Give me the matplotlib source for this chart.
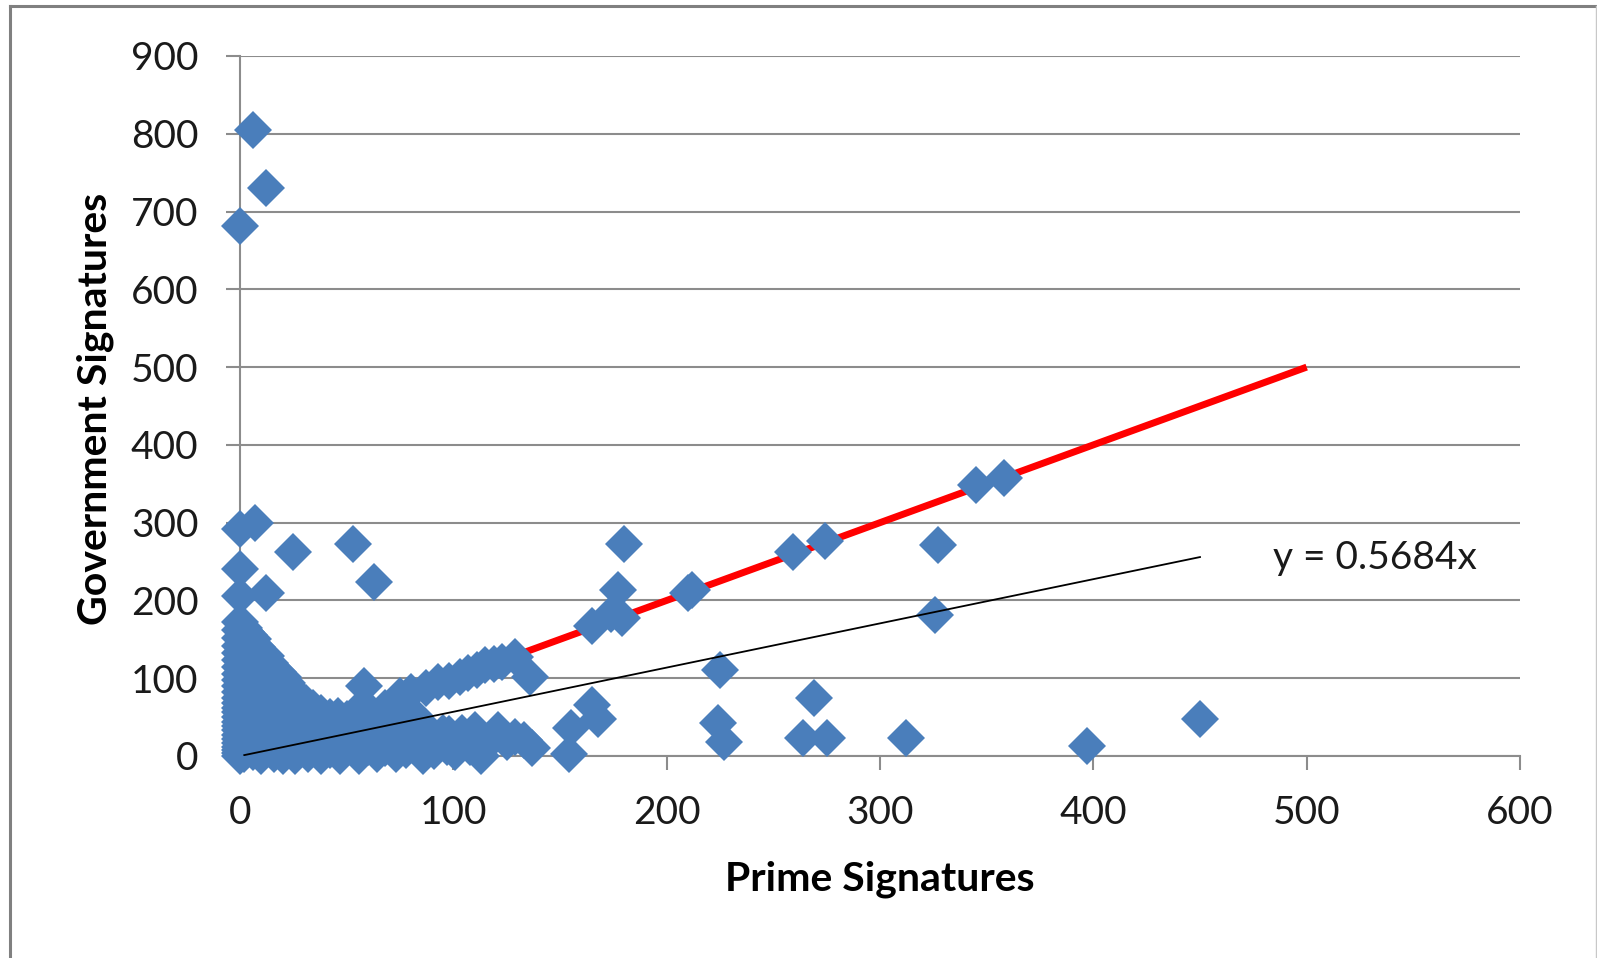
import matplotlib
matplotlib.use('Agg')
import matplotlib.pyplot as plt
from matplotlib.lines import Line2D

plt.rcParams['font.family'] = ['Lato', 'DejaVu Sans']

# Prime vs government signatures
prime = [
    0, 0, 0, 0, 0, 0, 0, 0, 0, 0, 0, 0, 0, 0, 0, 0, 0, 0, 0, 0, 0, 0, 0, 0, 0, 0, 0, 0, 0, 0,
    2, 2, 2, 2, 2, 2, 2, 2, 2, 2, 3,
    4, 4, 4, 4, 4, 4, 4, 4, 4,
    6, 7, 6, 6, 6, 6, 6, 6, 6, 6, 6,
    8, 8, 8, 8, 8, 8, 8, 8,
    10, 10, 10, 10, 10, 10, 10, 10,
    12, 12, 12, 12, 12, 12, 12, 12, 12,
    14, 14, 14, 14, 14, 14,
    16, 16, 16, 16, 16, 16,
    18, 18, 18, 18, 18, 18,
    20, 20, 20, 20, 20, 20,
    22, 22, 22, 22, 22,
    24, 25, 24, 24, 24,
    26, 26, 26, 27,
    28, 28, 28,
    30, 30, 31,
    32, 33, 33, 34,
    36, 36, 38,
    38, 39, 40,
    42, 42, 42,
    45, 45, 46,
    47, 48, 50,
    50, 52, 54,
    53, 55, 56, 57, 58,
    60, 60, 62,
    63, 64, 65, 66, 68,
    68, 70, 71, 75,
    73, 75, 76,
    78, 80, 82, 80,
    84, 86, 86, 87,
    89, 91, 93,
    95, 97, 98,
    101, 104, 108, 110, 113, 116, 121, 125, 129, 133, 137,
    98, 103, 107, 111, 115, 119, 123, 129, 136,
    154, 155, 165, 168, 165, 174, 179, 177, 180, 210, 212,
    225, 224, 227, 259, 274, 264, 275, 269, 312, 327, 326,
    345, 358, 397, 450,
]
government = [
    0, 4, 8, 12, 17, 22, 27, 33, 38, 44, 50, 56, 62, 68, 75, 82, 90, 98, 106, 115, 124, 133, 142, 152, 162, 172, 206, 241, 292, 681,
    3, 18, 35, 52, 70, 88, 108, 128, 148, 165, 160,
    10, 28, 45, 62, 80, 100, 120, 140, 155,
    805, 300, 5, 22, 40, 58, 76, 95, 115, 135, 150,
    14, 32, 50, 68, 86, 105, 125, 140,
    0, 22, 42, 60, 78, 98, 118, 133,
    730, 210, 10, 30, 50, 70, 90, 110, 128,
    18, 38, 58, 80, 100, 120,
    2, 25, 45, 65, 90, 112,
    12, 32, 52, 75, 100, 108,
    0, 20, 40, 60, 82, 102,
    8, 28, 48, 70, 94,
    86, 262, 15, 36, 56,
    0, 22, 45, 75,
    10, 32, 60,
    18, 40, 68,
    2, 28, 50, 62,
    12, 38, 55,
    0, 22, 45,
    8, 32, 50,
    18, 40, 52,
    0, 28, 48,
    10, 36, 55,
    273, 20, 0, 45, 90,
    12, 30, 55,
    224, 2, 22, 42, 62,
    10, 30, 50, 77,
    2, 20, 40,
    8, 30, 52, 82,
    15, 0, 40, 88,
    22, 6, 95,
    30, 12, 28,
    5, 30, 12, 34, 0, 15, 33, 18, 25, 20, 10,
    97, 102, 107, 110, 117, 118, 121, 127, 102,
    3, 36, 65, 48, 167, 183, 178, 213, 273, 210, 213,
    110, 43, 18, 262, 277, 23, 23, 74, 23, 271, 181,
    348, 358, 13, 47,
]

# reference line y = x and fitted trendline y = 0.5684x
equal_x = [0, 500]
equal_y = [0, 500]
slope = 0.5684
trend_x = [2, 450]
trend_label = 'y = 0.5684x'

x_ticks = [0, 100, 200, 300, 400, 500, 600]
y_ticks = [0, 100, 200, 300, 400, 500, 600, 700, 800, 900]

grid_col = '#8c8c8c'

fig = plt.figure(figsize=(15.97, 9.58), dpi=100)
ax = fig.add_axes([240 / 1597, 1 - 756 / 958, 1280 / 1597, 700 / 958])

ax.plot(equal_x, equal_y, color='#ff0000', linewidth=5, solid_capstyle='butt', zorder=2)
ax.plot(prime, government, linestyle='none', marker='D', markersize=19,
        markerfacecolor='#4A7EBB', markeredgewidth=0, zorder=3, clip_on=False)
ax.plot(trend_x, [slope * v for v in trend_x], color='black', linewidth=1.3, zorder=4)

ax.text(484, 254, trend_label, fontsize=28, ha='left', va='center', color='#1a1a1a')

ax.set_xlim(0, 600)
ax.set_ylim(0, 900)
ax.set_xticks(x_ticks)
ax.set_yticks(y_ticks)
ax.tick_params(axis='both', labelsize=28, colors=grid_col, labelcolor='#1a1a1a',
               length=10, width=1.5, direction='out')
ax.tick_params(axis='y', pad=20)
ax.tick_params(axis='x', pad=18)
ax.yaxis.grid(True, color=grid_col, linewidth=1.5)
ax.set_axisbelow(True)

for side in ['top', 'right']:
    ax.spines[side].set_visible(False)
for side in ['left', 'bottom']:
    ax.spines[side].set_color(grid_col)
    ax.spines[side].set_linewidth(1.5)

ax.set_xlabel('Prime Signatures', fontsize=29.5, fontweight='bold')
ax.xaxis.set_label_coords(0.5, -0.176)
ax.xaxis.label.set_va('center')
ax.set_ylabel('Government Signatures', fontsize=29.5, fontweight='bold')
ax.yaxis.set_label_coords(-0.113, 0.496)
ax.yaxis.label.set_va('center')

# outer chart frame
fig.add_artist(Line2D([10 / 1597, 10 / 1597], [0, 1 - 6 / 958], color='#808080', linewidth=2.2))
fig.add_artist(Line2D([10 / 1597, 1], [1 - 6 / 958, 1 - 6 / 958], color='#808080', linewidth=2.2))
fig.add_artist(Line2D([1596 / 1597, 1596 / 1597], [0, 1 - 6 / 958], color='#c8c8c8', linewidth=1))

fig.savefig('out.png', dpi=100)
